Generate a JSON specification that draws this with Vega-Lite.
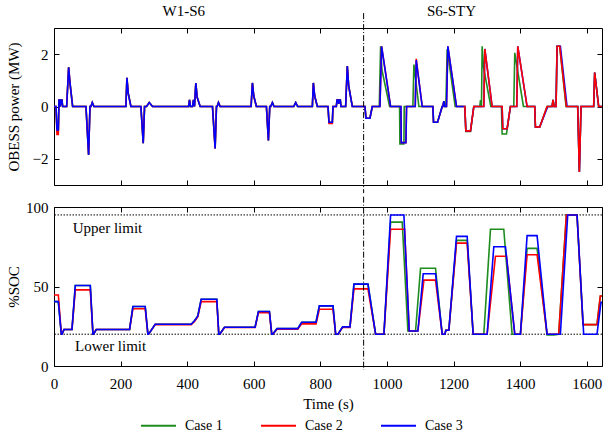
{
  "$schema": "https://vega.github.io/schema/vega-lite/v6.json",
  "padding": {"top": 3, "left": 5, "right": 2, "bottom": 2},
  "spacing": 0,
  "datasets": {
    "power": [
      {"t":0,"c":"Case 3","p":0},{"t":6,"c":"Case 3","p":0},{"t":9,"c":"Case 3","p":-0.9},{"t":13,"c":"Case 3","p":-0.9},{"t":15,"c":"Case 3","p":0.25},{"t":17,"c":"Case 3","p":0.25},{"t":19,"c":"Case 3","p":0},{"t":21,"c":"Case 3","p":0.25},{"t":24,"c":"Case 3","p":0.25},{"t":26,"c":"Case 3","p":0},
      {"t":38,"c":"Case 3","p":0},{"t":44,"c":"Case 3","p":1.5},{"t":48,"c":"Case 3","p":0.9},{"t":56,"c":"Case 3","p":0},
      {"t":96,"c":"Case 3","p":0},{"t":104,"c":"Case 3","p":-1.85},{"t":108,"c":"Case 3","p":0},{"t":111,"c":"Case 3","p":0},{"t":115,"c":"Case 3","p":0.15},{"t":120,"c":"Case 3","p":0},
      {"t":216,"c":"Case 3","p":0},{"t":219,"c":"Case 3","p":1.1},{"t":223,"c":"Case 3","p":0.5},{"t":231,"c":"Case 3","p":0},
      {"t":261,"c":"Case 3","p":0},{"t":268,"c":"Case 3","p":-1.4},{"t":272,"c":"Case 3","p":0},{"t":278,"c":"Case 3","p":0},{"t":286,"c":"Case 3","p":0.15},{"t":296,"c":"Case 3","p":0},
      {"t":404,"c":"Case 3","p":0},{"t":407,"c":"Case 3","p":0.25},{"t":410,"c":"Case 3","p":0},{"t":416,"c":"Case 3","p":0},{"t":419,"c":"Case 3","p":0.25},{"t":422,"c":"Case 3","p":0},{"t":426,"c":"Case 3","p":0.9},{"t":430,"c":"Case 3","p":0.35},{"t":439,"c":"Case 3","p":0},
      {"t":476,"c":"Case 3","p":0},{"t":484,"c":"Case 3","p":-1.6},{"t":488,"c":"Case 3","p":0},{"t":490,"c":"Case 3","p":0},{"t":494,"c":"Case 3","p":0.15},{"t":499,"c":"Case 3","p":0},
      {"t":592,"c":"Case 3","p":0},{"t":596,"c":"Case 3","p":0.9},{"t":600,"c":"Case 3","p":0.4},{"t":608,"c":"Case 3","p":0},
      {"t":638,"c":"Case 3","p":0},{"t":644,"c":"Case 3","p":-1.3},{"t":648,"c":"Case 3","p":0},{"t":651,"c":"Case 3","p":0},{"t":656,"c":"Case 3","p":0.15},{"t":661,"c":"Case 3","p":0},
      {"t":720,"c":"Case 3","p":0},{"t":726,"c":"Case 3","p":0.15},{"t":732,"c":"Case 3","p":0},
      {"t":776,"c":"Case 3","p":0},{"t":779,"c":"Case 3","p":0.9},{"t":783,"c":"Case 3","p":0.4},{"t":791,"c":"Case 3","p":0},
      {"t":823,"c":"Case 3","p":0},{"t":826,"c":"Case 3","p":-0.6},{"t":836,"c":"Case 3","p":-0.6},{"t":838,"c":"Case 3","p":0},
      {"t":848,"c":"Case 3","p":0},{"t":850,"c":"Case 3","p":0.25},{"t":853,"c":"Case 3","p":0.25},{"t":855,"c":"Case 3","p":0.1},{"t":857,"c":"Case 3","p":0.25},{"t":860,"c":"Case 3","p":0.25},{"t":862,"c":"Case 3","p":0},
      {"t":876,"c":"Case 3","p":0},{"t":881,"c":"Case 3","p":1.55},{"t":885,"c":"Case 3","p":0.8},{"t":896,"c":"Case 3","p":0},
      {"t":934,"c":"Case 3","p":0},{"t":937,"c":"Case 3","p":-0.45},{"t":949,"c":"Case 3","p":-0.45},{"t":956,"c":"Case 3","p":0},
      {"t":979,"c":"Case 3","p":0},{"t":984,"c":"Case 3","p":2.3},{"t":1011,"c":"Case 3","p":0},
      {"t":1042,"c":"Case 3","p":0},{"t":1043,"c":"Case 3","p":-1.38},{"t":1057,"c":"Case 3","p":-1.38},{"t":1059,"c":"Case 3","p":0},
      {"t":1085,"c":"Case 3","p":0},{"t":1088,"c":"Case 3","p":1.77},{"t":1106,"c":"Case 3","p":0},
      {"t":1138,"c":"Case 3","p":0},{"t":1140,"c":"Case 3","p":-0.6},{"t":1152,"c":"Case 3","p":-0.6},{"t":1166,"c":"Case 3","p":0},{"t":1168,"c":"Case 3","p":0},{"t":1171,"c":"Case 3","p":0.2},{"t":1174,"c":"Case 3","p":0},{"t":1179,"c":"Case 3","p":0},{"t":1183,"c":"Case 3","p":2.3},{"t":1209,"c":"Case 3","p":0},
      {"t":1231,"c":"Case 3","p":0},{"t":1234,"c":"Case 3","p":0},{"t":1237,"c":"Case 3","p":-0.93},{"t":1251,"c":"Case 3","p":-0.93},{"t":1261,"c":"Case 3","p":0},
      {"t":1291,"c":"Case 3","p":0},{"t":1294,"c":"Case 3","p":2.2},{"t":1316,"c":"Case 3","p":0},
      {"t":1346,"c":"Case 3","p":0},{"t":1348,"c":"Case 3","p":-0.85},{"t":1361,"c":"Case 3","p":-0.85},{"t":1371,"c":"Case 3","p":0},
      {"t":1390,"c":"Case 3","p":0},{"t":1393,"c":"Case 3","p":2.3},{"t":1421,"c":"Case 3","p":0},
      {"t":1444,"c":"Case 3","p":0},{"t":1446,"c":"Case 3","p":-0.78},{"t":1459,"c":"Case 3","p":-0.78},{"t":1483,"c":"Case 3","p":0},
      {"t":1496,"c":"Case 3","p":0},{"t":1499,"c":"Case 3","p":0.25},{"t":1502,"c":"Case 3","p":0},{"t":1508,"c":"Case 3","p":0},{"t":1511,"c":"Case 3","p":2.3},{"t":1521,"c":"Case 3","p":2.3},{"t":1541,"c":"Case 3","p":0},
      {"t":1573,"c":"Case 3","p":0},{"t":1578,"c":"Case 3","p":-2.5},{"t":1583,"c":"Case 3","p":0},
      {"t":1621,"c":"Case 3","p":0},{"t":1624,"c":"Case 3","p":1.3},{"t":1636,"c":"Case 3","p":0},{"t":1646,"c":"Case 3","p":0},

      {"t":0,"c":"Case 2","p":0},{"t":6,"c":"Case 2","p":0},{"t":9,"c":"Case 2","p":-1.07},{"t":13,"c":"Case 2","p":-1.07},{"t":15,"c":"Case 2","p":0.25},{"t":17,"c":"Case 2","p":0.25},{"t":19,"c":"Case 2","p":0},{"t":21,"c":"Case 2","p":0.25},{"t":24,"c":"Case 2","p":0.25},{"t":26,"c":"Case 2","p":0},
      {"t":38,"c":"Case 2","p":0},{"t":44,"c":"Case 2","p":1.5},{"t":48,"c":"Case 2","p":0.9},{"t":56,"c":"Case 2","p":0},
      {"t":96,"c":"Case 2","p":0},{"t":104,"c":"Case 2","p":-1.85},{"t":108,"c":"Case 2","p":0},{"t":111,"c":"Case 2","p":0},{"t":115,"c":"Case 2","p":0.15},{"t":120,"c":"Case 2","p":0},
      {"t":216,"c":"Case 2","p":0},{"t":219,"c":"Case 2","p":1.1},{"t":223,"c":"Case 2","p":0.5},{"t":231,"c":"Case 2","p":0},
      {"t":261,"c":"Case 2","p":0},{"t":268,"c":"Case 2","p":-1.4},{"t":272,"c":"Case 2","p":0},{"t":278,"c":"Case 2","p":0},{"t":286,"c":"Case 2","p":0.15},{"t":296,"c":"Case 2","p":0},
      {"t":404,"c":"Case 2","p":0},{"t":407,"c":"Case 2","p":0.25},{"t":410,"c":"Case 2","p":0},{"t":416,"c":"Case 2","p":0},{"t":419,"c":"Case 2","p":0.25},{"t":422,"c":"Case 2","p":0},{"t":426,"c":"Case 2","p":0.9},{"t":430,"c":"Case 2","p":0.35},{"t":439,"c":"Case 2","p":0},
      {"t":476,"c":"Case 2","p":0},{"t":484,"c":"Case 2","p":-1.6},{"t":488,"c":"Case 2","p":0},{"t":490,"c":"Case 2","p":0},{"t":494,"c":"Case 2","p":0.15},{"t":499,"c":"Case 2","p":0},
      {"t":592,"c":"Case 2","p":0},{"t":596,"c":"Case 2","p":0.9},{"t":600,"c":"Case 2","p":0.4},{"t":608,"c":"Case 2","p":0},
      {"t":638,"c":"Case 2","p":0},{"t":644,"c":"Case 2","p":-1.3},{"t":648,"c":"Case 2","p":0},{"t":651,"c":"Case 2","p":0},{"t":656,"c":"Case 2","p":0.15},{"t":661,"c":"Case 2","p":0},
      {"t":720,"c":"Case 2","p":0},{"t":726,"c":"Case 2","p":0.15},{"t":732,"c":"Case 2","p":0},
      {"t":776,"c":"Case 2","p":0},{"t":779,"c":"Case 2","p":0.9},{"t":783,"c":"Case 2","p":0.4},{"t":791,"c":"Case 2","p":0},
      {"t":823,"c":"Case 2","p":0},{"t":826,"c":"Case 2","p":-0.65},{"t":836,"c":"Case 2","p":-0.65},{"t":838,"c":"Case 2","p":0},
      {"t":848,"c":"Case 2","p":0},{"t":850,"c":"Case 2","p":0.25},{"t":853,"c":"Case 2","p":0.25},{"t":855,"c":"Case 2","p":0.1},{"t":857,"c":"Case 2","p":0.25},{"t":860,"c":"Case 2","p":0.25},{"t":862,"c":"Case 2","p":0},
      {"t":876,"c":"Case 2","p":0},{"t":881,"c":"Case 2","p":1.55},{"t":885,"c":"Case 2","p":0.8},{"t":896,"c":"Case 2","p":0},
      {"t":934,"c":"Case 2","p":0},{"t":937,"c":"Case 2","p":-0.45},{"t":949,"c":"Case 2","p":-0.45},{"t":956,"c":"Case 2","p":0},
      {"t":979,"c":"Case 2","p":0},{"t":984,"c":"Case 2","p":2.3},{"t":1011,"c":"Case 2","p":0},
      {"t":1042,"c":"Case 2","p":0},{"t":1043,"c":"Case 2","p":-1.38},{"t":1057,"c":"Case 2","p":-1.38},{"t":1059,"c":"Case 2","p":0},
      {"t":1085,"c":"Case 2","p":0},{"t":1088,"c":"Case 2","p":1.82},{"t":1106,"c":"Case 2","p":0},
      {"t":1138,"c":"Case 2","p":0},{"t":1140,"c":"Case 2","p":-0.6},{"t":1152,"c":"Case 2","p":-0.6},{"t":1166,"c":"Case 2","p":0},{"t":1168,"c":"Case 2","p":0},{"t":1171,"c":"Case 2","p":0.2},{"t":1174,"c":"Case 2","p":0},{"t":1179,"c":"Case 2","p":0},{"t":1183,"c":"Case 2","p":2.3},{"t":1209,"c":"Case 2","p":0},
      {"t":1231,"c":"Case 2","p":0},{"t":1234,"c":"Case 2","p":0},{"t":1237,"c":"Case 2","p":-0.93},{"t":1251,"c":"Case 2","p":-0.93},{"t":1261,"c":"Case 2","p":0},
      {"t":1291,"c":"Case 2","p":0},{"t":1294,"c":"Case 2","p":2.2},{"t":1316,"c":"Case 2","p":0},
      {"t":1346,"c":"Case 2","p":0},{"t":1348,"c":"Case 2","p":-0.85},{"t":1361,"c":"Case 2","p":-0.85},{"t":1371,"c":"Case 2","p":0},
      {"t":1390,"c":"Case 2","p":0},{"t":1393,"c":"Case 2","p":2.3},{"t":1421,"c":"Case 2","p":0},
      {"t":1444,"c":"Case 2","p":0},{"t":1446,"c":"Case 2","p":-0.78},{"t":1459,"c":"Case 2","p":-0.78},{"t":1481,"c":"Case 2","p":0},
      {"t":1496,"c":"Case 2","p":0},{"t":1499,"c":"Case 2","p":0.25},{"t":1502,"c":"Case 2","p":0},{"t":1508,"c":"Case 2","p":0},{"t":1511,"c":"Case 2","p":2.3},{"t":1519,"c":"Case 2","p":2.3},{"t":1539,"c":"Case 2","p":0},
      {"t":1573,"c":"Case 2","p":0},{"t":1578,"c":"Case 2","p":-2.5},{"t":1583,"c":"Case 2","p":0},
      {"t":1621,"c":"Case 2","p":0},{"t":1624,"c":"Case 2","p":1.3},{"t":1636,"c":"Case 2","p":0},{"t":1646,"c":"Case 2","p":0},

      {"t":0,"c":"Case 1","p":0},{"t":6,"c":"Case 1","p":0},{"t":9,"c":"Case 1","p":-0.9},{"t":13,"c":"Case 1","p":-0.9},{"t":15,"c":"Case 1","p":0.25},{"t":17,"c":"Case 1","p":0.25},{"t":19,"c":"Case 1","p":0},{"t":21,"c":"Case 1","p":0.25},{"t":24,"c":"Case 1","p":0.25},{"t":26,"c":"Case 1","p":0},
      {"t":38,"c":"Case 1","p":0},{"t":44,"c":"Case 1","p":1.5},{"t":48,"c":"Case 1","p":0.9},{"t":56,"c":"Case 1","p":0},
      {"t":96,"c":"Case 1","p":0},{"t":104,"c":"Case 1","p":-1.85},{"t":108,"c":"Case 1","p":0},{"t":111,"c":"Case 1","p":0},{"t":115,"c":"Case 1","p":0.15},{"t":120,"c":"Case 1","p":0},
      {"t":216,"c":"Case 1","p":0},{"t":219,"c":"Case 1","p":1.1},{"t":223,"c":"Case 1","p":0.5},{"t":231,"c":"Case 1","p":0},
      {"t":261,"c":"Case 1","p":0},{"t":268,"c":"Case 1","p":-1.4},{"t":272,"c":"Case 1","p":0},{"t":278,"c":"Case 1","p":0},{"t":286,"c":"Case 1","p":0.15},{"t":296,"c":"Case 1","p":0},
      {"t":404,"c":"Case 1","p":0},{"t":407,"c":"Case 1","p":0.25},{"t":410,"c":"Case 1","p":0},{"t":416,"c":"Case 1","p":0},{"t":419,"c":"Case 1","p":0.25},{"t":422,"c":"Case 1","p":0},{"t":426,"c":"Case 1","p":0.9},{"t":430,"c":"Case 1","p":0.35},{"t":439,"c":"Case 1","p":0},
      {"t":476,"c":"Case 1","p":0},{"t":484,"c":"Case 1","p":-1.6},{"t":488,"c":"Case 1","p":0},{"t":490,"c":"Case 1","p":0},{"t":494,"c":"Case 1","p":0.15},{"t":499,"c":"Case 1","p":0},
      {"t":592,"c":"Case 1","p":0},{"t":596,"c":"Case 1","p":0.9},{"t":600,"c":"Case 1","p":0.4},{"t":608,"c":"Case 1","p":0},
      {"t":638,"c":"Case 1","p":0},{"t":644,"c":"Case 1","p":-1.3},{"t":648,"c":"Case 1","p":0},{"t":651,"c":"Case 1","p":0},{"t":656,"c":"Case 1","p":0.15},{"t":661,"c":"Case 1","p":0},
      {"t":720,"c":"Case 1","p":0},{"t":726,"c":"Case 1","p":0.15},{"t":732,"c":"Case 1","p":0},
      {"t":776,"c":"Case 1","p":0},{"t":779,"c":"Case 1","p":0.9},{"t":783,"c":"Case 1","p":0.4},{"t":791,"c":"Case 1","p":0},
      {"t":823,"c":"Case 1","p":0},{"t":826,"c":"Case 1","p":-0.6},{"t":836,"c":"Case 1","p":-0.6},{"t":838,"c":"Case 1","p":0},
      {"t":848,"c":"Case 1","p":0},{"t":850,"c":"Case 1","p":0.25},{"t":853,"c":"Case 1","p":0.25},{"t":855,"c":"Case 1","p":0.1},{"t":857,"c":"Case 1","p":0.25},{"t":860,"c":"Case 1","p":0.25},{"t":862,"c":"Case 1","p":0},
      {"t":876,"c":"Case 1","p":0},{"t":881,"c":"Case 1","p":1.55},{"t":885,"c":"Case 1","p":0.8},{"t":896,"c":"Case 1","p":0},
      {"t":934,"c":"Case 1","p":0},{"t":937,"c":"Case 1","p":-0.45},{"t":949,"c":"Case 1","p":-0.45},{"t":956,"c":"Case 1","p":0},
      {"t":977,"c":"Case 1","p":0},{"t":981,"c":"Case 1","p":2.3},{"t":985,"c":"Case 1","p":1.4},{"t":1008,"c":"Case 1","p":0},
      {"t":1038,"c":"Case 1","p":0},{"t":1039,"c":"Case 1","p":-1.43},{"t":1051,"c":"Case 1","p":-1.43},{"t":1052,"c":"Case 1","p":0},
      {"t":1078,"c":"Case 1","p":0},{"t":1081,"c":"Case 1","p":1.6},{"t":1096,"c":"Case 1","p":0},
      {"t":1138,"c":"Case 1","p":0},{"t":1140,"c":"Case 1","p":-0.6},{"t":1152,"c":"Case 1","p":-0.6},{"t":1166,"c":"Case 1","p":0},{"t":1168,"c":"Case 1","p":0},{"t":1171,"c":"Case 1","p":0.2},{"t":1174,"c":"Case 1","p":0},{"t":1177,"c":"Case 1","p":0},{"t":1181,"c":"Case 1","p":2.2},{"t":1205,"c":"Case 1","p":0},
      {"t":1234,"c":"Case 1","p":0},{"t":1237,"c":"Case 1","p":-0.95},{"t":1251,"c":"Case 1","p":-0.95},{"t":1261,"c":"Case 1","p":0},
      {"t":1279,"c":"Case 1","p":0},{"t":1281,"c":"Case 1","p":0.25},{"t":1283,"c":"Case 1","p":0},{"t":1284,"c":"Case 1","p":0},{"t":1286,"c":"Case 1","p":2.3},{"t":1290,"c":"Case 1","p":1.5},{"t":1312,"c":"Case 1","p":0},
      {"t":1344,"c":"Case 1","p":0},{"t":1346,"c":"Case 1","p":-1.05},{"t":1359,"c":"Case 1","p":-1.05},{"t":1371,"c":"Case 1","p":0},
      {"t":1381,"c":"Case 1","p":0},{"t":1384,"c":"Case 1","p":2.05},{"t":1410,"c":"Case 1","p":0},
      {"t":1444,"c":"Case 1","p":0},{"t":1446,"c":"Case 1","p":-0.78},{"t":1459,"c":"Case 1","p":-0.78},{"t":1481,"c":"Case 1","p":0},
      {"t":1496,"c":"Case 1","p":0},{"t":1499,"c":"Case 1","p":0.25},{"t":1502,"c":"Case 1","p":0},{"t":1508,"c":"Case 1","p":0},{"t":1511,"c":"Case 1","p":2.3},{"t":1519,"c":"Case 1","p":2.3},{"t":1538,"c":"Case 1","p":0},
      {"t":1573,"c":"Case 1","p":0},{"t":1578,"c":"Case 1","p":-2.5},{"t":1583,"c":"Case 1","p":0},
      {"t":1621,"c":"Case 1","p":0},{"t":1624,"c":"Case 1","p":1.3},{"t":1636,"c":"Case 1","p":0},{"t":1646,"c":"Case 1","p":0}
    ],
    "soc": [
      {"t":0,"c":"Case 3","s":40.5},{"t":13,"c":"Case 3","s":40.5},{"t":22,"c":"Case 3","s":20},{"t":24,"c":"Case 3","s":20},{"t":30,"c":"Case 3","s":23},{"t":54,"c":"Case 3","s":23},{"t":64,"c":"Case 3","s":50.6},{"t":109,"c":"Case 3","s":50.6},{"t":117,"c":"Case 3","s":20},{"t":119,"c":"Case 3","s":20},{"t":127,"c":"Case 3","s":23},{"t":227,"c":"Case 3","s":23},{"t":237,"c":"Case 3","s":37.4},{"t":274,"c":"Case 3","s":37.4},{"t":282,"c":"Case 3","s":20},{"t":284,"c":"Case 3","s":20},{"t":304,"c":"Case 3","s":26.3},{"t":412,"c":"Case 3","s":26.3},{"t":422,"c":"Case 3","s":28.5},{"t":432,"c":"Case 3","s":31.5},{"t":442,"c":"Case 3","s":42},{"t":489,"c":"Case 3","s":42},{"t":495,"c":"Case 3","s":20},{"t":498,"c":"Case 3","s":20},{"t":512,"c":"Case 3","s":24.4},{"t":604,"c":"Case 3","s":24.4},{"t":614,"c":"Case 3","s":34.3},{"t":647,"c":"Case 3","s":34.3},{"t":654,"c":"Case 3","s":20},{"t":657,"c":"Case 3","s":20},{"t":670,"c":"Case 3","s":23.5},{"t":732,"c":"Case 3","s":23.5},{"t":744,"c":"Case 3","s":27.5},{"t":787,"c":"Case 3","s":27.5},{"t":797,"c":"Case 3","s":37.8},{"t":838,"c":"Case 3","s":37.8},{"t":846,"c":"Case 3","s":20},{"t":853,"c":"Case 3","s":20},{"t":867,"c":"Case 3","s":24.6},{"t":889,"c":"Case 3","s":24.6},{"t":901,"c":"Case 3","s":51.5},{"t":943,"c":"Case 3","s":51.5},{"t":966,"c":"Case 3","s":20},{"t":991,"c":"Case 3","s":20},{"t":1011,"c":"Case 3","s":95},{"t":1051,"c":"Case 3","s":95},{"t":1067,"c":"Case 3","s":22},{"t":1093,"c":"Case 3","s":22},{"t":1109,"c":"Case 3","s":58},{"t":1146,"c":"Case 3","s":58},{"t":1166,"c":"Case 3","s":20},{"t":1174,"c":"Case 3","s":20},{"t":1177,"c":"Case 3","s":22.5},{"t":1186,"c":"Case 3","s":22.5},{"t":1209,"c":"Case 3","s":81.5},{"t":1241,"c":"Case 3","s":81.5},{"t":1259,"c":"Case 3","s":20},{"t":1301,"c":"Case 3","s":20},{"t":1321,"c":"Case 3","s":75},{"t":1356,"c":"Case 3","s":75},{"t":1384,"c":"Case 3","s":20},{"t":1401,"c":"Case 3","s":20},{"t":1421,"c":"Case 3","s":82},{"t":1451,"c":"Case 3","s":82},{"t":1481,"c":"Case 3","s":20},{"t":1521,"c":"Case 3","s":20},{"t":1543,"c":"Case 3","s":95},{"t":1571,"c":"Case 3","s":95},{"t":1591,"c":"Case 3","s":20},{"t":1631,"c":"Case 3","s":20},{"t":1643,"c":"Case 3","s":40},{"t":1646,"c":"Case 3","s":40},

      {"t":0,"c":"Case 2","s":44.7},{"t":13,"c":"Case 2","s":44.7},{"t":22,"c":"Case 2","s":20},{"t":24,"c":"Case 2","s":20},{"t":30,"c":"Case 2","s":23},{"t":54,"c":"Case 2","s":23},{"t":64,"c":"Case 2","s":47.9},{"t":109,"c":"Case 2","s":47.9},{"t":117,"c":"Case 2","s":20},{"t":119,"c":"Case 2","s":20},{"t":127,"c":"Case 2","s":23},{"t":227,"c":"Case 2","s":23},{"t":237,"c":"Case 2","s":36},{"t":274,"c":"Case 2","s":36},{"t":282,"c":"Case 2","s":20},{"t":284,"c":"Case 2","s":20},{"t":304,"c":"Case 2","s":26},{"t":412,"c":"Case 2","s":26},{"t":422,"c":"Case 2","s":28},{"t":432,"c":"Case 2","s":31},{"t":442,"c":"Case 2","s":40.5},{"t":489,"c":"Case 2","s":40.5},{"t":495,"c":"Case 2","s":20},{"t":498,"c":"Case 2","s":20},{"t":512,"c":"Case 2","s":24.2},{"t":604,"c":"Case 2","s":24.2},{"t":614,"c":"Case 2","s":33.6},{"t":647,"c":"Case 2","s":33.6},{"t":654,"c":"Case 2","s":20},{"t":657,"c":"Case 2","s":20},{"t":670,"c":"Case 2","s":23.2},{"t":732,"c":"Case 2","s":23.2},{"t":744,"c":"Case 2","s":26.5},{"t":787,"c":"Case 2","s":26.5},{"t":797,"c":"Case 2","s":35.7},{"t":838,"c":"Case 2","s":35.7},{"t":846,"c":"Case 2","s":20},{"t":853,"c":"Case 2","s":20},{"t":867,"c":"Case 2","s":24.3},{"t":889,"c":"Case 2","s":24.3},{"t":901,"c":"Case 2","s":48.5},{"t":943,"c":"Case 2","s":48.5},{"t":966,"c":"Case 2","s":20},{"t":991,"c":"Case 2","s":20},{"t":1011,"c":"Case 2","s":86},{"t":1053,"c":"Case 2","s":86},{"t":1067,"c":"Case 2","s":22},{"t":1093,"c":"Case 2","s":22},{"t":1111,"c":"Case 2","s":54},{"t":1146,"c":"Case 2","s":54},{"t":1166,"c":"Case 2","s":20},{"t":1174,"c":"Case 2","s":20},{"t":1177,"c":"Case 2","s":22.5},{"t":1186,"c":"Case 2","s":22.5},{"t":1209,"c":"Case 2","s":77.3},{"t":1241,"c":"Case 2","s":77.3},{"t":1259,"c":"Case 2","s":20},{"t":1301,"c":"Case 2","s":20},{"t":1326,"c":"Case 2","s":69},{"t":1359,"c":"Case 2","s":69},{"t":1384,"c":"Case 2","s":20},{"t":1401,"c":"Case 2","s":20},{"t":1421,"c":"Case 2","s":70},{"t":1451,"c":"Case 2","s":70},{"t":1481,"c":"Case 2","s":20},{"t":1516,"c":"Case 2","s":20},{"t":1539,"c":"Case 2","s":95},{"t":1571,"c":"Case 2","s":95},{"t":1589,"c":"Case 2","s":26},{"t":1631,"c":"Case 2","s":26},{"t":1641,"c":"Case 2","s":44},{"t":1646,"c":"Case 2","s":44},

      {"t":0,"c":"Case 1","s":40.5},{"t":13,"c":"Case 1","s":40.5},{"t":22,"c":"Case 1","s":20},{"t":24,"c":"Case 1","s":20},{"t":30,"c":"Case 1","s":23},{"t":54,"c":"Case 1","s":23},{"t":64,"c":"Case 1","s":50.6},{"t":109,"c":"Case 1","s":50.6},{"t":117,"c":"Case 1","s":20},{"t":119,"c":"Case 1","s":20},{"t":127,"c":"Case 1","s":23},{"t":227,"c":"Case 1","s":23},{"t":237,"c":"Case 1","s":37.4},{"t":274,"c":"Case 1","s":37.4},{"t":282,"c":"Case 1","s":20},{"t":284,"c":"Case 1","s":20},{"t":304,"c":"Case 1","s":26.3},{"t":412,"c":"Case 1","s":26.3},{"t":422,"c":"Case 1","s":28.5},{"t":432,"c":"Case 1","s":31.5},{"t":442,"c":"Case 1","s":42},{"t":489,"c":"Case 1","s":42},{"t":495,"c":"Case 1","s":20},{"t":498,"c":"Case 1","s":20},{"t":512,"c":"Case 1","s":24.4},{"t":604,"c":"Case 1","s":24.4},{"t":614,"c":"Case 1","s":34.3},{"t":647,"c":"Case 1","s":34.3},{"t":654,"c":"Case 1","s":20},{"t":657,"c":"Case 1","s":20},{"t":670,"c":"Case 1","s":23.5},{"t":732,"c":"Case 1","s":23.5},{"t":744,"c":"Case 1","s":27.5},{"t":787,"c":"Case 1","s":27.5},{"t":797,"c":"Case 1","s":37.8},{"t":838,"c":"Case 1","s":37.8},{"t":846,"c":"Case 1","s":20},{"t":853,"c":"Case 1","s":20},{"t":867,"c":"Case 1","s":24.6},{"t":889,"c":"Case 1","s":24.6},{"t":901,"c":"Case 1","s":51.5},{"t":943,"c":"Case 1","s":51.5},{"t":966,"c":"Case 1","s":20},{"t":991,"c":"Case 1","s":20},{"t":1011,"c":"Case 1","s":90.5},{"t":1046,"c":"Case 1","s":90.5},{"t":1063,"c":"Case 1","s":22},{"t":1086,"c":"Case 1","s":22},{"t":1101,"c":"Case 1","s":61.5},{"t":1146,"c":"Case 1","s":61.5},{"t":1166,"c":"Case 1","s":20},{"t":1174,"c":"Case 1","s":20},{"t":1177,"c":"Case 1","s":22.5},{"t":1186,"c":"Case 1","s":22.5},{"t":1209,"c":"Case 1","s":79},{"t":1241,"c":"Case 1","s":79},{"t":1259,"c":"Case 1","s":20},{"t":1291,"c":"Case 1","s":20},{"t":1311,"c":"Case 1","s":86},{"t":1351,"c":"Case 1","s":86},{"t":1376,"c":"Case 1","s":20},{"t":1401,"c":"Case 1","s":20},{"t":1421,"c":"Case 1","s":74},{"t":1451,"c":"Case 1","s":74},{"t":1481,"c":"Case 1","s":19.5},{"t":1501,"c":"Case 1","s":19.5},{"t":1516,"c":"Case 1","s":20},{"t":1539,"c":"Case 1","s":95},{"t":1571,"c":"Case 1","s":95},{"t":1589,"c":"Case 1","s":26},{"t":1631,"c":"Case 1","s":26},{"t":1641,"c":"Case 1","s":44},{"t":1646,"c":"Case 1","s":44}
    ]
  },
  "vconcat": [
    {
      "width": 548,
      "height": 157,
      "layer": [
        {
          "data": {"name": "power"},
          "transform": [{"filter": "datum.c === 'Case 1'"}],
          "mark": {"type": "line", "strokeWidth": 1.6},
          "encoding": {
            "x": {"field": "t", "type": "quantitative", "scale": {"domain": [0, 1646], "nice": false, "zero": false},
                  "axis": {"orient": "bottom", "labels": false, "title": null, "values": [0, 200, 400, 600, 800, 1000, 1200, 1400, 1600]}},
            "y": {"field": "p", "type": "quantitative", "scale": {"domain": [-3, 3], "nice": false},
                  "axis": {"orient": "left", "values": [-2, 0, 2], "title": "OBESS power (MW)", "titleX": -41, "titleY": 78.5, "titleBaseline": "middle"}},
            "color": {"field": "c", "type": "nominal", "scale": {"domain": ["Case 1", "Case 2", "Case 3"], "range": ["#1e8c1e", "#ff0000", "#0000ff"]}, "legend": {"title": null}}
          }
        },
        {
          "data": {"name": "power"},
          "transform": [{"filter": "datum.c === 'Case 2' && datum.t <= 1231"}],
          "mark": {"type": "line", "strokeWidth": 1.6},
          "encoding": {
            "x": {"field": "t", "type": "quantitative", "axis": null},
            "y": {"field": "p", "type": "quantitative", "axis": null},
            "color": {"field": "c", "type": "nominal", "legend": {"title": null}}
          }
        },
        {
          "data": {"name": "power"},
          "transform": [{"filter": "datum.c === 'Case 3' && datum.t <= 1231"}],
          "mark": {"type": "line", "strokeWidth": 1.6},
          "encoding": {
            "x": {"field": "t", "type": "quantitative", "axis": null},
            "y": {"field": "p", "type": "quantitative", "axis": null},
            "color": {"field": "c", "type": "nominal", "legend": {"title": null}}
          }
        },
        {
          "data": {"name": "power"},
          "transform": [{"filter": "datum.c === 'Case 3' && datum.t >= 1231"}],
          "mark": {"type": "line", "strokeWidth": 1.6},
          "encoding": {
            "x": {"field": "t", "type": "quantitative", "axis": null},
            "y": {"field": "p", "type": "quantitative", "axis": null},
            "color": {"field": "c", "type": "nominal", "legend": {"title": null}}
          }
        },
        {
          "data": {"name": "power"},
          "transform": [{"filter": "datum.c === 'Case 2' && datum.t >= 1231"}],
          "mark": {"type": "line", "strokeWidth": 1.6},
          "encoding": {
            "x": {"field": "t", "type": "quantitative",
                  "axis": {"orient": "top", "labels": false, "title": null, "values": [0, 200, 400, 600, 800, 1000, 1200, 1400, 1600]}},
            "y": {"field": "p", "type": "quantitative",
                  "axis": {"orient": "right", "labels": false, "title": null, "values": [-2, 0, 2]}},
            "color": {"field": "c", "type": "nominal", "legend": {"title": null}}
          }
        },
        {
          "data": {"values": [{"t": 930}]},
          "mark": {"type": "rule", "color": "black", "strokeWidth": 1, "strokeDash": [6, 2, 1, 2]},
          "encoding": {
            "x": {"field": "t", "type": "quantitative", "axis": null},
            "y": {"datum": 3.57, "type": "quantitative", "axis": null},
            "y2": {"datum": -3.31}
          }
        },
        {
          "data": {"values": [{"t": 390, "label": "W1-S6"}, {"t": 1194, "label": "S6-STY"}]},
          "mark": {"type": "text", "fontSize": 15, "align": "center", "baseline": "middle", "color": "black"},
          "encoding": {
            "x": {"field": "t", "type": "quantitative", "axis": null},
            "y": {"datum": 3.64, "type": "quantitative", "axis": null},
            "text": {"field": "label"}
          }
        }
      ],
      "resolve": {"axis": {"x": "independent", "y": "independent"}}
    },
    {
      "width": 548,
      "height": 159,
      "layer": [
        {
          "data": {"values": [{"s": 95}, {"s": 20}]},
          "mark": {"type": "rule", "color": "black", "strokeWidth": 1, "strokeDash": [1.5, 1.5]},
          "encoding": {
            "y": {"field": "s", "type": "quantitative", "axis": null}
          }
        },
        {
          "data": {"name": "soc"},
          "transform": [{"filter": "datum.c === 'Case 1'"}],
          "mark": {"type": "line", "strokeWidth": 1.6},
          "encoding": {
            "x": {"field": "t", "type": "quantitative", "scale": {"domain": [0, 1646], "nice": false, "zero": false},
                  "axis": {"orient": "bottom", "title": "Time (s)", "format": "d", "values": [0, 200, 400, 600, 800, 1000, 1200, 1400, 1600]}},
            "y": {"field": "s", "type": "quantitative", "scale": {"domain": [0, 100], "nice": false},
                  "axis": {"orient": "left", "values": [0, 50, 100], "title": "%SOC", "titleX": -41, "titleY": 79.5, "titleBaseline": "middle"}},
            "color": {"field": "c", "type": "nominal", "scale": {"domain": ["Case 1", "Case 2", "Case 3"], "range": ["#1e8c1e", "#ff0000", "#0000ff"]}, "legend": {"title": null}}
          }
        },
        {
          "data": {"name": "soc"},
          "transform": [{"filter": "datum.c === 'Case 2'"}],
          "mark": {"type": "line", "strokeWidth": 1.6},
          "encoding": {
            "x": {"field": "t", "type": "quantitative", "axis": null},
            "y": {"field": "s", "type": "quantitative", "axis": null},
            "color": {"field": "c", "type": "nominal", "legend": {"title": null}}
          }
        },
        {
          "data": {"name": "soc"},
          "transform": [{"filter": "datum.c === 'Case 3'"}],
          "mark": {"type": "line", "strokeWidth": 1.6},
          "encoding": {
            "x": {"field": "t", "type": "quantitative",
                  "axis": {"orient": "top", "labels": false, "title": null, "values": [0, 200, 400, 600, 800, 1000, 1200, 1400, 1600]}},
            "y": {"field": "s", "type": "quantitative",
                  "axis": {"orient": "right", "labels": false, "title": null, "values": [0, 50, 100]}},
            "color": {"field": "c", "type": "nominal", "legend": {"title": null}}
          }
        },
        {
          "data": {"values": [{"t": 56, "s": 86.8, "label": "Upper limit"}, {"t": 63, "s": 12.7, "label": "Lower limit"}]},
          "mark": {"type": "text", "fontSize": 15, "align": "left", "baseline": "middle", "color": "black"},
          "encoding": {
            "x": {"field": "t", "type": "quantitative", "axis": null},
            "y": {"field": "s", "type": "quantitative", "axis": null},
            "text": {"field": "label"}
          }
        },
        {
          "data": {"values": [{"t": 930}]},
          "mark": {"type": "rule", "color": "black", "strokeWidth": 1, "strokeDash": [6, 2, 1, 2]},
          "encoding": {
            "x": {"field": "t", "type": "quantitative", "axis": null},
            "y": {"datum": 106.5, "type": "quantitative", "axis": null},
            "y2": {"datum": -2.5}
          }
        }
      ],
      "resolve": {"axis": {"x": "independent", "y": "independent"}}
    }
  ],
  "config": {
    "font": "Liberation Serif",
    "view": {"stroke": "black", "strokeWidth": 1},
    "axis": {
      "grid": false,
      "domain": false,
      "tickColor": "black",
      "tickSize": -5,
      "labelFont": "Liberation Serif",
      "labelFontSize": 15,
      "labelColor": "black",
      "titleFont": "Liberation Serif",
      "titleFontSize": 15,
      "titleFontWeight": "normal",
      "titleColor": "black"
    },
    "axisX": {"labelPadding": 15, "labelFlush": false, "titlePadding": 5},
    "axisY": {"labelPadding": 11},
    "legend": {
      "orient": "none",
      "legendX": 86,
      "legendY": 379,
      "direction": "horizontal",
      "symbolType": "stroke",
      "symbolSize": 1225,
      "symbolStrokeWidth": 2,
      "labelFont": "Liberation Serif",
      "labelFontSize": 14,
      "labelColor": "black",
      "labelOffset": 8,
      "columnPadding": 34
    }
  }
}
